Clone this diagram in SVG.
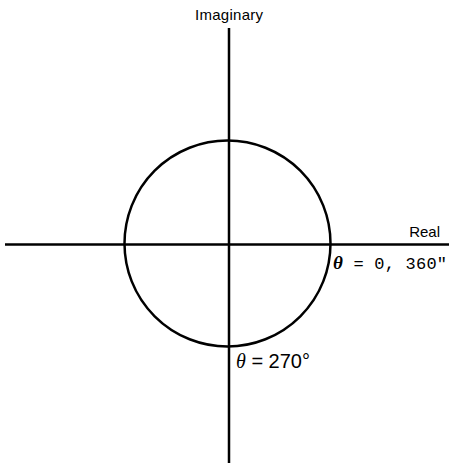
<svg xmlns="http://www.w3.org/2000/svg" width="449" height="463" viewBox="0 0 449 463">
<style>
.ln{stroke:#000;stroke-width:2.5;fill:none}
.t{font-family:"Liberation Sans",Arial,sans-serif;font-size:15px;fill:#000}
.m{font-family:"Liberation Mono","Courier New",monospace;font-size:17px;fill:#000}
.big{font-size:20px}
.th{font-family:"Liberation Serif",serif;font-style:italic}
</style>
<rect width="449" height="463" fill="#fff"/>
<g id="connectors">
<line class="ln" x1="229" y1="28" x2="229" y2="463"/>
<line class="ln" x1="5" y1="244.5" x2="449" y2="244.5"/>
</g>
<g id="circle"><circle class="ln" cx="227.5" cy="243.5" r="103"/></g>
<g id="imag"><text class="t" x="229" y="20" text-anchor="middle" textLength="68">Imaginary</text></g>
<g id="real"><text class="t" x="440" y="237" text-anchor="end">Real</text></g>
<g id="theta0"><text class="m" x="333" y="269" textLength="114"><tspan class="th" font-weight="bold" style="font-size:19px">θ</tspan> = 0, 360″</text></g>
<g id="theta270"><text class="t big" x="236" y="368"><tspan class="th">θ</tspan> = 270°</text></g>
</svg>
